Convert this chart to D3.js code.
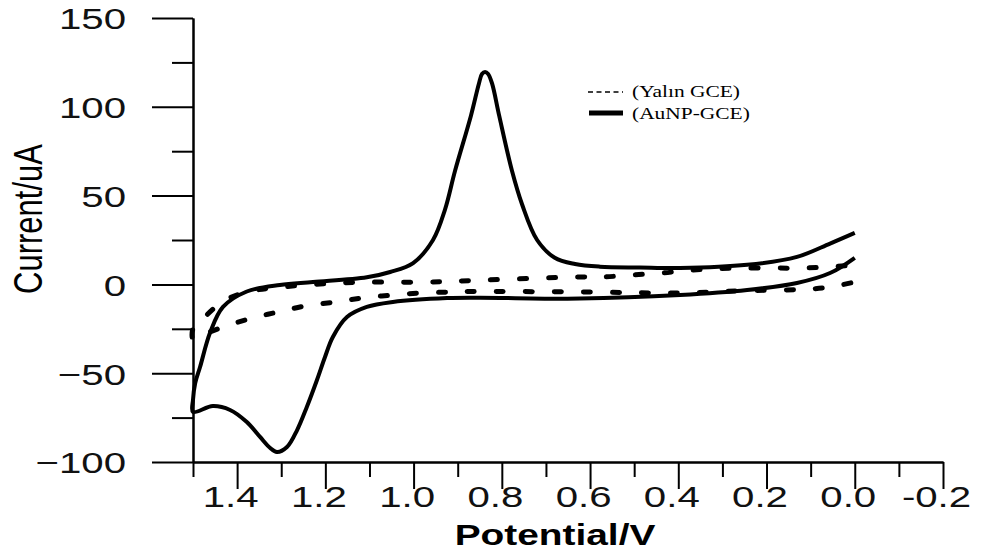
<!DOCTYPE html>
<html>
<head>
<meta charset="utf-8">
<script src="https://cdn.jsdelivr.net/npm/d3@7"></script>
<style>
  body { margin: 0; background: #fff; }
  svg { display: block; }
  .axis path, .axis line { stroke: #000; stroke-width: 2; }
  .axis text { font-family: "Liberation Sans", Arial, sans-serif; font-size: 30px; fill: #111; }
</style>
</head>
<body>
<svg id="chart" width="981" height="556"></svg>
<script>
// AuNP-GCE: upper (anodic) branch 0.0 -> 1.5 V, then lower branch 1.5 -> 0.0 V
const aunpV = [0.0, 0.056, 0.131, 0.244, 0.396, 0.487, 0.578, 0.634, 0.680, 0.720, 0.754, 0.777, 0.806, 0.822, 0.831, 0.838, 0.845, 0.852, 0.870, 0.906, 0.929, 0.956, 1.001, 1.053, 1.106, 1.228, 1.303, 1.378, 1.432, 1.461, 1.484, 1.495, 1.5,
  1.5, 1.455, 1.416, 1.378, 1.348, 1.325, 1.310, 1.287, 1.264, 1.242, 1.219, 1.201, 1.183, 1.151, 1.106, 1.047, 0.924, 0.850, 0.623, 0.396, 0.244, 0.131, 0.056, 0.0];
const aunpI = [29, 23, 15.5, 11, 9.2, 9.5, 10, 11.5, 15, 25, 45, 64, 95, 113, 118.5, 119.6, 118.5, 113, 95, 64, 42, 25, 12, 7, 4, 1.3, -0.3, -4, -12.7, -27, -46.5, -55.5, -65,
  -71.8, -68.5, -70.7, -77.5, -85.9, -92.1, -94.4, -91.6, -82, -69, -53.8, -41, -29.6, -18.4, -12.7, -9.9, -7.7, -7.5, -8, -6, -3.2, 0.8, 6.4, 15];

// Yalın GCE: upper branch 0.0 -> 1.5 V, then lower branch back to 0.0 V
const yalinV = [0.022, 0.061, 0.124, 0.260, 0.367, 0.437, 0.505, 0.571, 0.623, 0.899, 0.967, 1.106, 1.167, 1.280, 1.378, 1.434, 1.484, 1.5,
  1.5, 1.489, 1.432, 1.366, 1.307, 1.246, 1.178, 1.117, 1.049, 0.981, 0.917, 0.865, 0.607, 0.403, 0.267, 0.072, 0.0];
const yalinI = [10.5, 9.8, 9.2, 9.2, 8.1, 6.4, 5.3, 4.2, 4.2, 1.9, 1.3, 1.3, 0.8, -1, -4.3, -9.9, -21, -25,
  -31, -29.6, -24, -19, -15.5, -12.2, -9.9, -7.7, -6, -4.8, -4.3, -4, -4.3, -4.8, -3.7, -2, 1.4];

const xMajor = [1.4, 1.2, 1.0, 0.8, 0.6, 0.4, 0.2, 0.0, -0.2];
const xMinor = [1.5, 1.3, 1.1, 0.9, 0.7, 0.5, 0.3, 0.1, -0.1];
const yMajor = [150, 100, 50, 0, -50, -100];
const yMinor = [125, 75, 25, -25, -75];
const legendLabels = ["(Yalın GCE)", "(AuNP-GCE)"];

const svg = d3.select("#chart");
const sx = 1.34; // the source picture is stretched sideways, text included

const x = d3.scaleLinear().domain([1.5, -0.2]).range([193, 943]);
const y = d3.scaleLinear().domain([-100, 150]).range([462, 18]);

// x axis
const gx = svg.append("g").attr("class", "axis").attr("transform", `translate(0,${y(-100)})`);
gx.call(d3.axisBottom(x).tickValues(xMinor).tickSize(15).tickSizeOuter(0).tickFormat(""));
gx.append("g").call(d3.axisBottom(x).tickValues(xMajor).tickSize(27).tickSizeOuter(0).tickFormat(d => d.toFixed(1)));
gx.selectAll("text")
  .attr("y", 45)
  .attr("dy", null)
  .attr("transform", `translate(-7,0) scale(${sx},1)`);

// y axis
const gy = svg.append("g").attr("class", "axis").attr("transform", `translate(${x(1.5)},0)`);
gy.call(d3.axisLeft(y).tickValues(yMinor).tickSize(21).tickSizeOuter(0).tickFormat(""));
gy.append("g").call(d3.axisLeft(y).tickValues(yMajor).tickSize(41).tickSizeOuter(0).tickFormat(d3.format("d")));
gy.selectAll("text")
  .attr("x", -67 / sx)
  .attr("dy", "0.36em")
  .attr("transform", `scale(${sx},1)`);

// axis titles
svg.append("g")
  .attr("transform", `translate(27,219) scale(${sx},1) rotate(-90)`)
  .append("text")
  .attr("text-anchor", "middle")
  .attr("dy", "0.36em")
  .style("font-family", "'Liberation Sans', Arial, sans-serif")
  .style("font-size", "31px")
  .text("Current/uA");

svg.append("text")
  .attr("transform", `translate(555,545) scale(${sx},1)`)
  .attr("text-anchor", "middle")
  .style("font-family", "'Liberation Sans', Arial, sans-serif")
  .style("font-weight", "bold")
  .style("font-size", "29px")
  .text("Potential/V");

// curves
const line = d3.line()
  .x(d => x(d[0]))
  .y(d => y(d[1]))
  .curve(d3.curveCatmullRom.alpha(0.5));

svg.append("path")
  .datum(d3.zip(yalinV, yalinI))
  .attr("d", line)
  .attr("fill", "none")
  .attr("stroke", "#000")
  .attr("stroke-width", 5)
  .attr("stroke-linecap", "round")
  .attr("stroke-dasharray", "7,22");

svg.append("path")
  .datum(d3.zip(aunpV, aunpI))
  .attr("d", line)
  .attr("fill", "none")
  .attr("stroke", "#000")
  .attr("stroke-width", 4)
  .attr("stroke-linejoin", "round");

// legend
const legend = svg.append("g").attr("transform", "translate(588,92)");
legend.append("line")
  .attr("x1", 0).attr("x2", 35).attr("y1", 0).attr("y2", 0)
  .attr("stroke", "#000").attr("stroke-width", 1.5).attr("stroke-dasharray", "5,3.5");
legend.append("line")
  .attr("x1", 1).attr("x2", 35).attr("y1", 21).attr("y2", 21)
  .attr("stroke", "#000").attr("stroke-width", 5);
legend.selectAll("text.lab")
  .data(legendLabels)
  .join("text")
  .attr("class", "lab")
  .attr("transform", (d, i) => `translate(44,${5 + i * 22}) scale(${sx},1)`)
  .style("font-family", "'Liberation Serif', 'Times New Roman', serif")
  .style("font-size", "16px")
  .text(d => d);
</script>
</body>
</html>
